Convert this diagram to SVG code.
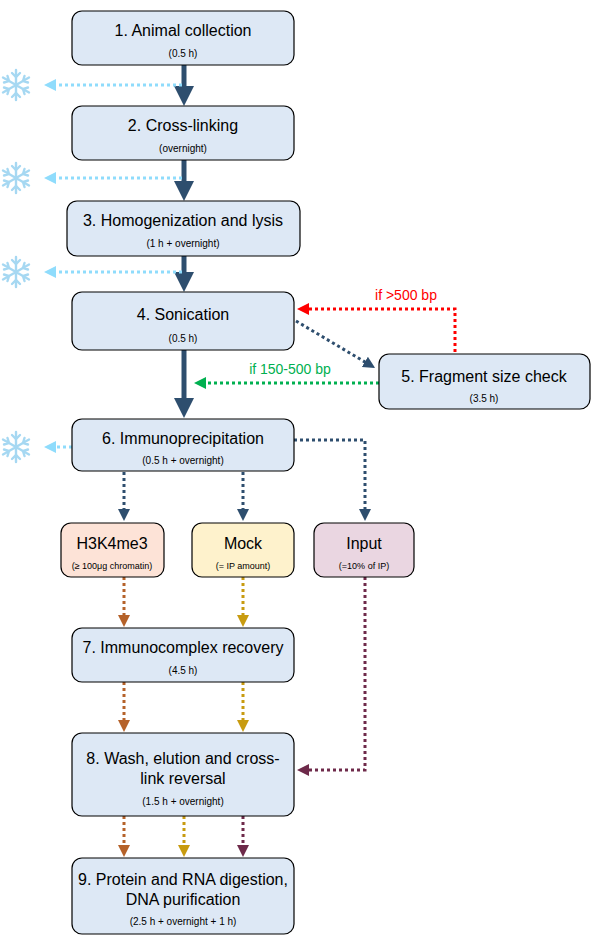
<svg xmlns="http://www.w3.org/2000/svg" width="600" height="951" viewBox="0 0 600 951">
<style>
.n rect{fill:#dde8f5;stroke:#000;stroke-width:1.2}
text{font-family:"Liberation Sans",Arial,sans-serif;text-anchor:middle;fill:#000}
.t{font-size:16px}.s{font-size:10px}
.main{stroke:#2e4e6e;stroke-width:5;fill:none}
.d{fill:none;stroke-width:3;stroke-dasharray:3 3}
.snow{stroke:#a6d8f2;stroke-width:2.4;fill:none;stroke-linecap:round}
</style>
<defs>
<marker id="am" markerWidth="4" markerHeight="4" refX="2" refY="2" orient="auto" markerUnits="strokeWidth"><path d="M0,0L4,2L0,4z" fill="#2e4e6e"/></marker>
<marker id="ab" markerWidth="4" markerHeight="4" refX="2" refY="2" orient="auto" markerUnits="strokeWidth"><path d="M0,0L4,2L0,4z" fill="#8fdcfc"/></marker>
<marker id="ad" markerWidth="4" markerHeight="4" refX="2" refY="2" orient="auto" markerUnits="strokeWidth"><path d="M0,0L4,2L0,4z" fill="#2e4e6e"/></marker>
<marker id="ar" markerWidth="4" markerHeight="4" refX="2" refY="2" orient="auto" markerUnits="strokeWidth"><path d="M0,0L4,2L0,4z" fill="#ff0000"/></marker>
<marker id="ag" markerWidth="4" markerHeight="4" refX="2" refY="2" orient="auto" markerUnits="strokeWidth"><path d="M0,0L4,2L0,4z" fill="#00b050"/></marker>
<marker id="ao" markerWidth="4" markerHeight="4" refX="2" refY="2" orient="auto" markerUnits="strokeWidth"><path d="M0,0L4,2L0,4z" fill="#b5622a"/></marker>
<marker id="ay" markerWidth="4" markerHeight="4" refX="2" refY="2" orient="auto" markerUnits="strokeWidth"><path d="M0,0L4,2L0,4z" fill="#c89b10"/></marker>
<marker id="ap" markerWidth="4" markerHeight="4" refX="2" refY="2" orient="auto" markerUnits="strokeWidth"><path d="M0,0L4,2L0,4z" fill="#6e2a4a"/></marker>
<g id="flake" class="snow">
<path d="M0,-15V15M-13,-7.5L13,7.5M-13,7.5L13,-7.5"/>
<path d="M-4,-12L0,-8L4,-12M-4,12L0,8L4,12M-12,-2.5L-7,-4L-8.5,-9M12,2.5L7,4L8.5,9M-12,2.5L-7,4L-8.5,9M12,-2.5L7,-4L8.5,-9"/>
</g>
</defs>
<g id="snowflakes">
<use href="#flake" x="16" y="85"/><use href="#flake" x="16" y="178"/><use href="#flake" x="16" y="272"/><use href="#flake" x="16" y="447"/>
</g>
<g id="connectors">
<path class="main" d="M184,65V96" marker-end="url(#am)"/>
<path class="main" d="M184,160V191" marker-end="url(#am)"/>
<path class="main" d="M184,256V282" marker-end="url(#am)"/>
<path class="main" d="M184,350V408" marker-end="url(#am)"/>
<path class="d" stroke="#8fdcfc" d="M182,85H50" marker-end="url(#ab)"/>
<path class="d" stroke="#8fdcfc" d="M182,178H50" marker-end="url(#ab)"/>
<path class="d" stroke="#8fdcfc" d="M182,272H50" marker-end="url(#ab)"/>
<path class="d" stroke="#8fdcfc" d="M72,447H50" marker-end="url(#ab)"/>
<path class="d" stroke="#2e4e6e" d="M296,321L370,365" marker-end="url(#ad)"/>
<path class="d" stroke="#ff0000" d="M455,352V309H303" marker-end="url(#ar)"/>
<path class="d" stroke="#00b050" d="M379,383H200" marker-end="url(#ag)"/>
<path class="d" stroke="#2e4e6e" d="M124,472V515" marker-end="url(#ad)"/>
<path class="d" stroke="#2e4e6e" d="M243,472V515" marker-end="url(#ad)"/>
<path class="d" stroke="#2e4e6e" d="M294,440H365V515" marker-end="url(#ad)"/>
<path class="d" stroke="#b5622a" d="M124,577V621" marker-end="url(#ao)"/>
<path class="d" stroke="#c89b10" d="M243,577V621" marker-end="url(#ay)"/>
<path class="d" stroke="#b5622a" d="M124,682V726" marker-end="url(#ao)"/>
<path class="d" stroke="#c89b10" d="M243,682V726" marker-end="url(#ay)"/>
<path class="d" stroke="#6e2a4a" d="M365,577V770H303" marker-end="url(#ap)"/>
<path class="d" stroke="#b5622a" d="M124,816V851" marker-end="url(#ao)"/>
<path class="d" stroke="#c89b10" d="M184,816V851" marker-end="url(#ay)"/>
<path class="d" stroke="#6e2a4a" d="M243,816V851" marker-end="url(#ap)"/>
</g>
<text x="406" y="300" font-size="14" fill="#ff0000" style="fill:#ff0000">if &gt;500 bp</text>
<text x="290" y="374" font-size="14" style="fill:#00b050">if 150-500 bp</text>
<g id="n1" class="n"><rect x="72" y="11" width="222" height="54" rx="10"/><text class="t" x="183" y="36">1. Animal collection</text><text class="s" x="183" y="57">(0.5 h)</text></g>
<g id="n2" class="n"><rect x="72" y="106" width="222" height="54" rx="10"/><text class="t" x="183" y="131">2. Cross-linking</text><text class="s" x="183" y="152">(overnight)</text></g>
<g id="n3" class="n"><rect x="67" y="201" width="233" height="55" rx="10"/><text class="t" x="183" y="226">3. Homogenization and lysis</text><text class="s" x="183" y="247">(1 h + overnight)</text></g>
<g id="n4" class="n"><rect x="72" y="292" width="222" height="58" rx="10"/><text class="t" x="183" y="320">4. Sonication</text><text class="s" x="183" y="342">(0.5 h)</text></g>
<g id="n5" class="n"><rect x="379" y="354" width="211" height="55" rx="10"/><text class="t" x="484" y="382">5. Fragment size check</text><text class="s" x="484" y="402">(3.5 h)</text></g>
<g id="n6" class="n"><rect x="72" y="419" width="222" height="52" rx="10"/><text class="t" x="183" y="444">6. Immunoprecipitation</text><text class="s" x="183" y="464">(0.5 h + overnight)</text></g>
<g id="h3"><rect x="61" y="523" width="103" height="54" rx="10" fill="#fde3d7" stroke="#000" stroke-width="1.2"/><text class="t" x="112" y="549">H3K4me3</text><text x="112" y="569" font-size="9">(≥ 100μg chromatin)</text></g>
<g id="mock"><rect x="192" y="523" width="102" height="54" rx="10" fill="#fef2cc" stroke="#000" stroke-width="1.2"/><text class="t" x="243" y="549">Mock</text><text x="243" y="569" font-size="9">(= IP amount)</text></g>
<g id="input"><rect x="314" y="523" width="100" height="54" rx="10" fill="#ead6e1" stroke="#000" stroke-width="1.2"/><text class="t" x="364" y="549">Input</text><text x="364" y="569" font-size="9">(=10% of IP)</text></g>
<g id="n7" class="n"><rect x="72" y="628" width="222" height="54" rx="10"/><text class="t" x="183" y="653">7. Immunocomplex recovery</text><text class="s" x="183" y="674">(4.5 h)</text></g>
<g id="n8" class="n"><rect x="72" y="733" width="222" height="83" rx="10"/><text class="t" x="183" y="764">8. Wash, elution and cross-</text><text class="t" x="183" y="784">link reversal</text><text class="s" x="183" y="805">(1.5 h + overnight)</text></g>
<g id="n9" class="n"><rect x="72" y="858" width="222" height="76" rx="10"/><text class="t" x="183" y="885">9. Protein and RNA digestion,</text><text class="t" x="183" y="905">DNA purification</text><text class="s" x="183" y="925">(2.5 h + overnight + 1 h)</text></g>
</svg>
